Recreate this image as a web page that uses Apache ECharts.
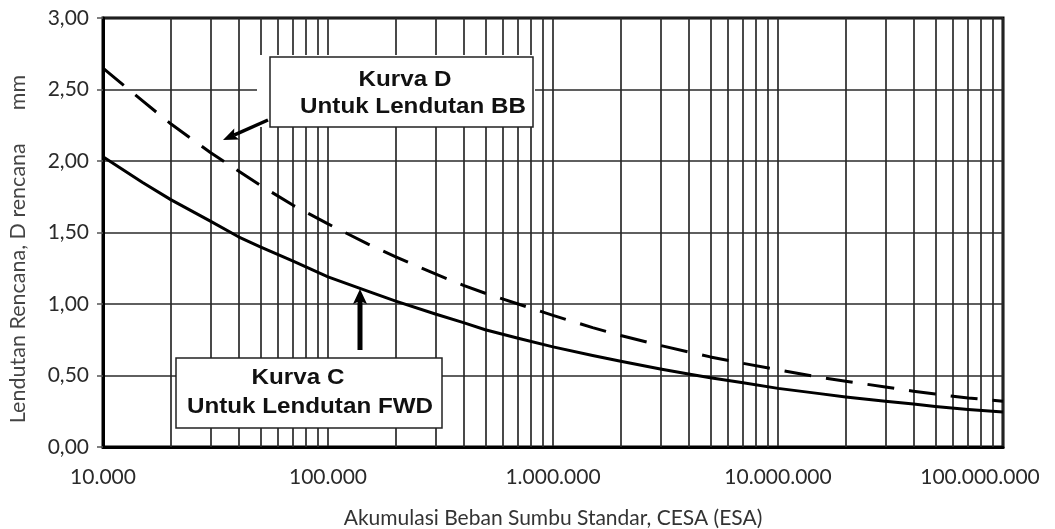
<!DOCTYPE html>
<html>
<head>
<meta charset="utf-8">
<script src="https://cdn.jsdelivr.net/npm/echarts@6/dist/echarts.min.js"></script>
<style>
  html, body { margin: 0; padding: 0; background: #fff; }
  #chart { width: 1055px; height: 529px; }
</style>
</head>
<body>
<div id="chart"></div>
<script>
// Cumulative standard axle load (CESA) sample points
const cesa = [
  1e4, 1.5e4, 2e4, 3e4, 4e4, 5e4, 7e4,
  1e5, 1.5e5, 2e5, 3e5, 4e5, 5e5, 7e5,
  1e6, 1.5e6, 2e6, 3e6, 4e6, 5e6, 7e6,
  1e7, 1.5e7, 2e7, 3e7, 4e7, 5e7, 7e7,
  1e8
];
// Kurva C – design deflection for FWD (mm)
const kurvaC = [
  2.03, 1.85, 1.73, 1.58, 1.47, 1.40, 1.30,
  1.19, 1.09, 1.02, 0.93, 0.87, 0.82, 0.76,
  0.70, 0.64, 0.60, 0.545, 0.51, 0.485, 0.45,
  0.41, 0.375, 0.35, 0.32, 0.30, 0.284, 0.263,
  0.245
];
// Kurva D – design deflection for Benkelman Beam (mm)
const kurvaD = [
  2.65, 2.42, 2.26, 2.06, 1.93, 1.83, 1.69,
  1.56, 1.42, 1.33, 1.21, 1.13, 1.075, 1.00,
  0.92, 0.835, 0.78, 0.71, 0.665, 0.63, 0.585,
  0.54, 0.49, 0.46, 0.42, 0.39, 0.37, 0.343,
  0.32
];
// Axis ranges
const xMin = 1e4, xMax = 1e8;
const yMin = 0, yMax = 3, yStep = 0.5;
// Log-cycle grid lines at 2..9 of each decade
const decades = [1e4, 1e5, 1e6, 1e7];
const minorGrid = [];
decades.forEach(d => { for (let m = 2; m <= 9; m++) minorGrid.push(m * d); });

const gridColor = '#2a2a2a';
const fmtX = v => String(Math.round(v)).replace(/\B(?=(\d{3})+(?!\d))/g, '.');
const fmtY = v => v.toFixed(2).replace('.', ',');

const chart = echarts.init(document.getElementById('chart'), null, { renderer: 'canvas' });

// Straight arrow with a filled head pointing at (x2, y2)
function arrow(x1, y1, x2, y2, w, headLen, headHalf) {
  const dx = x2 - x1, dy = y2 - y1, L = Math.hypot(dx, dy);
  const ux = dx / L, uy = dy / L, px = -uy, py = ux;
  const bx = x2 - ux * headLen, by = y2 - uy * headLen;
  const nx = x2 - ux * headLen * 0.8, ny = y2 - uy * headLen * 0.8;
  return [
    { type: 'line', z: 100, shape: { x1: x1, y1: y1, x2: nx, y2: ny },
      style: { stroke: '#000', lineWidth: w } },
    { type: 'polygon', z: 100,
      shape: { points: [[x2, y2], [bx + px * headHalf, by + py * headHalf], [nx, ny], [bx - px * headHalf, by - py * headHalf]] },
      style: { fill: '#000' } }
  ];
}

function boxText(cx, cy, str) {
  return { type: 'text', z: 101, x: cx, y: cy, scaleX: 1.1,
    style: { text: str, x: 0, y: 0, align: 'center', verticalAlign: 'middle',
      font: 'bold 22px "Liberation Sans", Arial, sans-serif', fill: '#111' } };
}

const option = {
  animation: false,
  backgroundColor: '#fff',
  grid: { left: 103, right: 52, top: 18, bottom: 82, show: true,
          borderColor: '#000', borderWidth: 3, outerBoundsMode: 'none' },
  xAxis: {
    type: 'log', logBase: 10, min: xMin, max: xMax,
    name: 'Akumulasi Beban Sumbu Standar, CESA (ESA)',
    nameLocation: 'middle', nameGap: 61,
    nameTextStyle: { fontFamily: 'Lato', fontSize: 21, color: '#333' },
    axisLine: { show: true, lineStyle: { color: '#000', width: 3 } },
    axisTick: { show: false },
    axisLabel: {
      margin: 20, fontFamily: 'Lato', fontSize: 21, color: '#2a2a2a',
      formatter: v => v >= xMax ? '{last|' + fmtX(v) + '}' : fmtX(v),
      rich: { last: { fontFamily: 'Lato', fontSize: 21, color: '#2a2a2a', padding: [0, 46, 0, 0] } }
    },
    splitLine: { show: true, lineStyle: { color: gridColor, width: 1.7 } }
  },
  yAxis: {
    type: 'value', min: yMin, max: yMax, interval: yStep,
    axisLine: { show: true, lineStyle: { color: '#000', width: 3 } },
    axisTick: { show: true, length: 6, lineStyle: { color: '#555', width: 1.5 } },
    axisLabel: { margin: 14, fontFamily: 'Lato', fontSize: 21, color: '#2a2a2a', formatter: fmtY },
    splitLine: { show: true, lineStyle: { color: gridColor, width: 1.7 } }
  },
  series: [
    {
      name: 'Grid', type: 'line', data: [], silent: true,
      markLine: {
        silent: true, symbol: 'none', label: { show: false },
        lineStyle: { color: gridColor, width: 1.7, type: 'solid' },
        data: minorGrid.map(v => ({ xAxis: v }))
      }
    },
    {
      name: 'Kurva C', type: 'line', smooth: false, showSymbol: false,
      data: cesa.map((x, i) => [x, kurvaC[i]]),
      lineStyle: { color: '#000', width: 3, join: 'round' }, z: 5
    },
    {
      name: 'Kurva D', type: 'line', smooth: false, showSymbol: false,
      data: cesa.map((x, i) => [x, kurvaD[i]]),
      lineStyle: { color: '#000', width: 3, type: [27, 15], join: 'round' }, z: 5
    }
  ],
  graphic: [
    // Y axis title
    { type: 'text', z: 50, x: 18, y: 249, rotation: Math.PI / 2,
      style: { text: 'Lendutan Rencana, D rencana      mm', x: 0, y: 0, align: 'center', verticalAlign: 'middle',
        font: '21.5px Lato', fill: '#444' } },
    // Kurva D label box
    { type: 'rect', z: 99, shape: { x: 257, y: 55, width: 278, height: 72 }, style: { fill: '#fff' } },
    { type: 'rect', z: 100, shape: { x: 270, y: 57, width: 263, height: 70 },
      style: { fill: '#fff', stroke: '#222', lineWidth: 1.5 } },
    boxText(405, 80, 'Kurva D'),
    boxText(413, 107, 'Untuk Lendutan BB'),
    ...arrow(268, 120, 223, 140, 3.5, 15, 6),
    // Kurva C label box
    { type: 'rect', z: 100, shape: { x: 176, y: 358, width: 266, height: 70 },
      style: { fill: '#fff', stroke: '#222', lineWidth: 1.5 } },
    boxText(298, 378, 'Kurva C'),
    boxText(310, 407, 'Untuk Lendutan FWD'),
    ...arrow(360, 350, 360, 289, 5, 15, 7)
  ]
};

chart.setOption(option);
</script>
</body>
</html>
